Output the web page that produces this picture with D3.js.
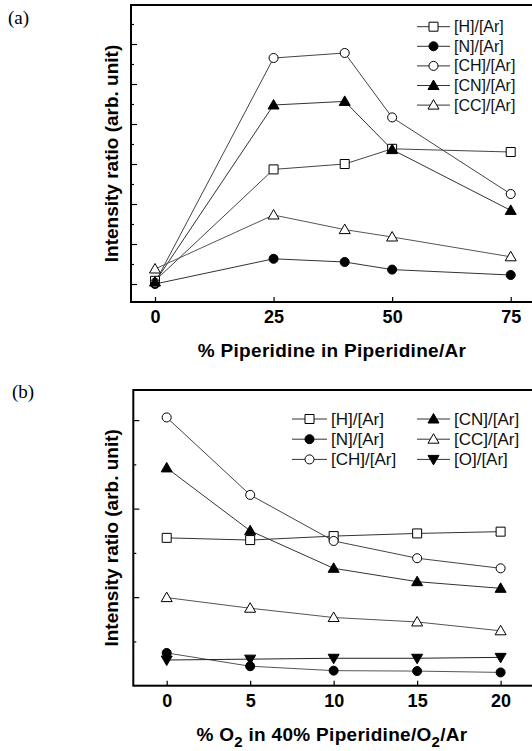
<!DOCTYPE html>
<html>
<head>
<meta charset="utf-8">
<script src="https://cdn.jsdelivr.net/npm/d3@7"></script>
<style>
  body { margin: 0; background: #fff; }
  svg { display: block; }
</style>
</head>
<body>
<svg id="chart" width="532" height="751"></svg>
<script>
// panel (a): % piperidine in piperidine/Ar
const xA = [0, 25, 40, 50, 75]
const xTicksA = [0, 25, 50, 75]
const hA = [0.08, 2.865, 3.0, 3.38, 3.3]
const nA = [0.0, 0.63, 0.55, 0.36, 0.225]
const chA = [0.03, 5.65, 5.775, 4.165, 2.25]
const cnA = [0.05, 4.475, 4.565, 3.36, 1.84]
const ccA = [0.375, 1.725, 1.36, 1.175, 0.68]

// panel (b): % O2 in 40% piperidine/O2/Ar
const xB = [0, 5, 10, 15, 20]
const xTicksB = [0, 5, 10, 15, 20]
const hB = [1.67, 1.645, 1.69, 1.72, 1.74]
const nB = [0.37, 0.22, 0.17, 0.165, 0.15]
const chB = [3.03, 2.155, 1.635, 1.44, 1.326]
const cnB = [2.46, 1.75, 1.326, 1.175, 1.10]
const ccB = [0.995, 0.875, 0.77, 0.72, 0.62]
const oB = [0.29, 0.30, 0.31, 0.31, 0.32]

const namesA = ['[H]/[Ar]', '[N]/[Ar]', '[CH]/[Ar]', '[CN]/[Ar]', '[CC]/[Ar]']
const namesB = ['[H]/[Ar]', '[N]/[Ar]', '[CH]/[Ar]', '[CN]/[Ar]', '[CC]/[Ar]', '[O]/[Ar]']

const svg = d3.select('#chart')

// marker shapes
const markers = {
    square: { d: 'M-4.5,-4.5H4.5V4.5H-4.5Z', fill: '#fff' },
    dot: { d: d3.symbol(d3.symbolCircle, 64)(), fill: '#000' },
    circle: { d: d3.symbol(d3.symbolCircle, 64)(), fill: '#fff' },
    triUp: { d: 'M0,-5.5L5.5,4L-5.5,4Z', fill: '#000' },
    triUpOpen: { d: 'M0,-5.5L5.5,4L-5.5,4Z', fill: '#fff' },
    triDown: { d: 'M0,5.5L5.5,-4L-5.5,-4Z', fill: '#000' }
}

const drawMarker = (g, type, x, y) => {
    g.append('path')
        .attr('d', markers[type].d)
        .attr('transform', `translate(${x},${y})`)
        .attr('fill', markers[type].fill)
        .attr('stroke', '#000')
        .attr('stroke-width', 1)
}

const drawPanel = (cfg) => {
    const g = svg.append('g')
    const x = d3.scaleLinear().domain(cfg.xDomain).range([cfg.left, cfg.right])
    const y = d3.scaleLinear().domain(cfg.yDomain).range([cfg.bottom, cfg.top])

    // y ticks, inside
    g.append('g')
        .attr('transform', `translate(${cfg.left},0)`)
        .call(d3.axisLeft(y).tickValues(cfg.yMajor).tickSize(-6).tickFormat(''))
        .call(a => a.select('.domain').remove())
    g.append('g')
        .attr('transform', `translate(${cfg.left},0)`)
        .call(d3.axisLeft(y).tickValues(cfg.yMinor).tickSize(-3).tickFormat(''))
        .call(a => a.select('.domain').remove())

    // x axis
    const xa = g.append('g')
        .attr('transform', `translate(0,${cfg.bottom})`)
        .call(d3.axisBottom(x).tickValues(cfg.xTicks).tickSize(-5).tickPadding(cfg.pad))
    xa.select('.domain').remove()
    xa.selectAll('text')
        .attr('font-family', 'Liberation Sans, Arial, sans-serif')
        .attr('font-weight', 'bold')
        .attr('font-size', 18)
        .attr('fill', '#000')
    g.selectAll('.tick line').attr('stroke', '#000').attr('stroke-width', 1.2)

    // frame
    g.append('rect')
        .attr('x', cfg.left).attr('y', cfg.top)
        .attr('width', 540 - cfg.left).attr('height', cfg.bottom - cfg.top)
        .attr('fill', 'none').attr('stroke', '#000').attr('stroke-width', 2)

    // series lines then markers
    const line = d3.line().x((d, i) => x(cfg.xs[i])).y(d => y(d))
    cfg.series.forEach(s => {
        g.append('path')
            .attr('d', line(s.values))
            .attr('fill', 'none')
            .attr('stroke', s.stroke)
            .attr('stroke-width', 1)
    })
    cfg.series.forEach(s => {
        s.values.forEach((v, i) => drawMarker(g, s.type, x(cfg.xs[i]), y(v)))
    })

    // legend
    cfg.series.forEach((s, i) => {
        const pos = cfg.legendPos(i)
        g.append('line')
            .attr('x1', pos.x1).attr('x2', pos.x2)
            .attr('y1', pos.y).attr('y2', pos.y)
            .attr('stroke', '#333').attr('stroke-width', 1)
        drawMarker(g, s.type, (pos.x1 + pos.x2) / 2, pos.y)
        g.append('text')
            .attr('x', pos.x2 + 4).attr('y', pos.y + 5.5)
            .attr('font-family', 'Liberation Sans, Arial, sans-serif')
            .attr('font-size', cfg.legendSize)
            .attr('fill', '#111')
            .text(s.name)
    })

    // axis titles
    g.append('text')
        .attr('transform', `translate(${cfg.yTitleX},${(cfg.top + cfg.bottom) / 2}) rotate(-90)`)
        .attr('text-anchor', 'middle')
        .attr('font-family', 'Liberation Sans, Arial, sans-serif')
        .attr('font-weight', 'bold')
        .attr('font-size', 19)
        .text('Intensity ratio (arb. unit)')

    const xt = g.append('text')
        .attr('x', cfg.xTitleX).attr('y', cfg.xTitleY)
        .attr('text-anchor', 'middle')
        .attr('font-family', 'Liberation Sans, Arial, sans-serif')
        .attr('font-weight', 'bold')
        .attr('font-size', 19)
        .attr('letter-spacing', 0.3)
    cfg.xTitle.forEach(p => {
        xt.append('tspan')
            .attr('font-size', p.sub ? 15 : 19)
            .attr('dy', p.sub ? 6 : (p.after ? -6 : 0))
            .text(p.t)
    })

    g.append('text')
        .attr('x', cfg.tagX).attr('y', cfg.tagY)
        .attr('font-family', 'Liberation Serif, Times New Roman, serif')
        .attr('font-size', 19)
        .text(cfg.tag)
}

drawPanel({
    tag: '(a)', tagX: 8, tagY: 24,
    left: 131, right: 532, top: 5, bottom: 302,
    xDomain: [-5.06, 79.49], yDomain: [-0.45, 6.975],
    xs: xA, xTicks: xTicksA, pad: 8,
    yMajor: [0, 1, 2, 3, 4, 5, 6], yMinor: [0.5, 1.5, 2.5, 3.5, 4.5, 5.5, 6.5],
    series: [
        { name: namesA[0], values: hA, type: 'square', stroke: '#444' },
        { name: namesA[1], values: nA, type: 'dot', stroke: '#333' },
        { name: namesA[2], values: chA, type: 'circle', stroke: '#444' },
        { name: namesA[3], values: cnA, type: 'triUp', stroke: '#333' },
        { name: namesA[4], values: ccA, type: 'triUpOpen', stroke: '#555' }
    ],
    legendSize: 16,
    legendPos: i => ({ x1: 417, x2: 450, y: 26.7 + i * 19.6 }),
    yTitleX: 118,
    xTitleX: 332, xTitleY: 357,
    xTitle: [{ t: '% Piperidine in Piperidine/Ar' }]
})

drawPanel({
    tag: '(b)', tagX: 12, tagY: 398,
    left: 133.3, right: 532, top: 390, bottom: 685.7,
    xDomain: [-2, 21.88], yDomain: [0, 3.34],
    xs: xB, xTicks: xTicksB, pad: 9,
    yMajor: [1, 2, 3], yMinor: [0.5, 1.5, 2.5],
    series: [
        { name: namesB[0], values: hB, type: 'square', stroke: '#333' },
        { name: namesB[1], values: nB, type: 'dot', stroke: '#555' },
        { name: namesB[2], values: chB, type: 'circle', stroke: '#444' },
        { name: namesB[3], values: cnB, type: 'triUp', stroke: '#333' },
        { name: namesB[4], values: ccB, type: 'triUpOpen', stroke: '#555' },
        { name: namesB[5], values: oB, type: 'triDown', stroke: '#222' }
    ],
    legendSize: 17,
    legendPos: i => i < 3
        ? { x1: 292, x2: 327, y: 419 + i * 20.2 }
        : { x1: 417, x2: 450, y: 419 + (i - 3) * 20.2 },
    yTitleX: 118,
    xTitleX: 332, xTitleY: 741,
    xTitle: [{ t: '% O' }, { t: '2', sub: true }, { t: ' in 40% Piperidine/O', after: true }, { t: '2', sub: true }, { t: '/Ar', after: true }]
})
</script>
</body>
</html>
